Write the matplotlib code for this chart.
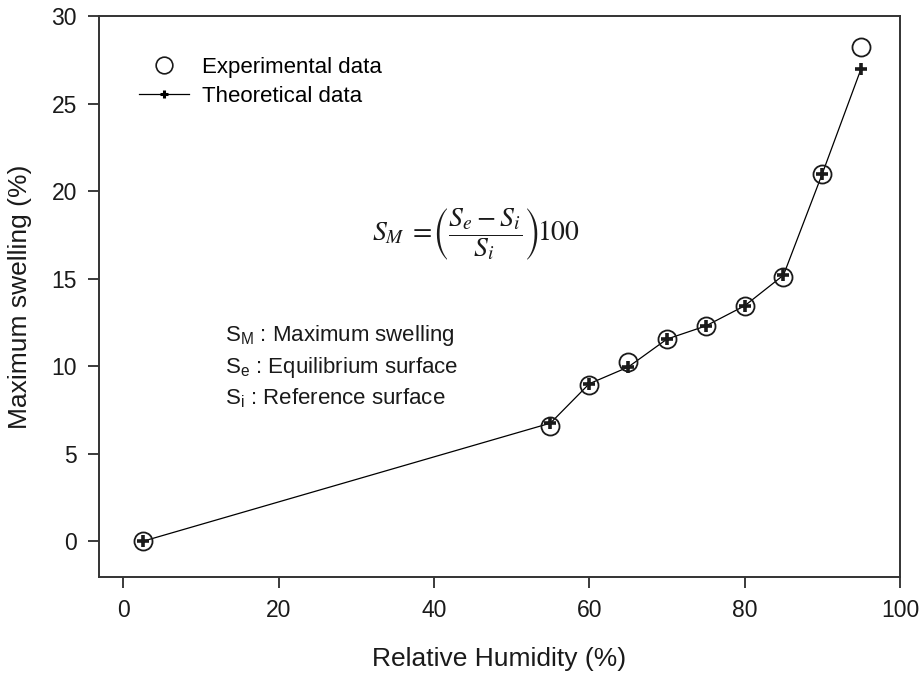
import matplotlib
matplotlib.use("Agg")
import matplotlib.pyplot as plt
from matplotlib.lines import Line2D

plt.rcParams['font.family'] = ['Liberation Sans', 'DejaVu Sans']

humidity = [2.5, 55, 60, 65, 70, 75, 80, 85, 90, 95]
experimental = [0.0, 6.6, 8.95, 10.25, 11.55, 12.3, 13.45, 15.1, 21.0, 28.25]
theoretical = [0.0, 6.75, 9.0, 9.95, 11.55, 12.3, 13.45, 15.2, 21.0, 27.0]
xticks = [0, 20, 40, 60, 80, 100]
yticks = [0, 5, 10, 15, 20, 25, 30]

fig = plt.figure(figsize=(9.23, 6.77), dpi=100)
ax = fig.add_axes([0.1073, 0.1481, 0.9751 - 0.1073, 0.9764 - 0.1481])

ax.plot(humidity, theoretical, color='black', lw=0.9, zorder=2)
ax.plot(humidity, theoretical, ls='none', marker='+', ms=8, mew=2.6,
        color='#1a1a1a', zorder=4)
ax.plot(humidity, experimental, ls='none', marker='o', ms=13, mfc='none',
        mec='#1a1a1a', mew=1.3, zorder=3)

ax.set_xlim(-3.1, 100)
ax.set_ylim(-2.02, 30)
ax.set_xticks(xticks)
ax.set_yticks(yticks)
ax.tick_params(direction='out', length=8, width=1.2, labelsize=16.5,
               colors='#1a1a1a', pad=8)
for s in ax.spines.values():
    s.set_linewidth(1.4)
    s.set_color('#333333')

ax.set_xlabel('Relative Humidity (%)', fontsize=19, labelpad=18,
              color='#1a1a1a')
ax.set_ylabel('Maximum swelling (%)', fontsize=19, labelpad=14,
              color='#1a1a1a')

h1 = Line2D([], [], ls='none', marker='o', ms=12, mfc='none', mec='#1a1a1a',
            mew=1.2)
h2 = Line2D([], [], color='black', lw=0.9, marker='+', ms=6, mew=2.2)
ax.legend([h1, h2], ['Experimental data', 'Theoretical data'],
          loc='upper left', bbox_to_anchor=(0.03, 0.955), frameon=False,
          fontsize=16, handlelength=2.25, handletextpad=0.6,
          labelspacing=0.38, borderpad=0.2)

ax.text(0.471, 0.611,
        r'$S_M\;=\!\left(\dfrac{S_e - S_i}{S_i}\right)\!100$',
        transform=ax.transAxes, ha='center', va='center', fontsize=20,
        math_fontfamily='stix', color='#1a1a1a')

ax.text(0.157, 0.431, r'S$_\mathregular{M}$ : Maximum swelling',
        transform=ax.transAxes, fontsize=16, va='center', color='#1a1a1a')
ax.text(0.157, 0.374, r'S$_\mathregular{e}$ : Equilibrium surface',
        transform=ax.transAxes, fontsize=16, va='center', color='#1a1a1a')
ax.text(0.157, 0.319, r'S$_\mathregular{i}$ : Reference surface',
        transform=ax.transAxes, fontsize=16, va='center', color='#1a1a1a')

fig.savefig('out.png', dpi=100)
